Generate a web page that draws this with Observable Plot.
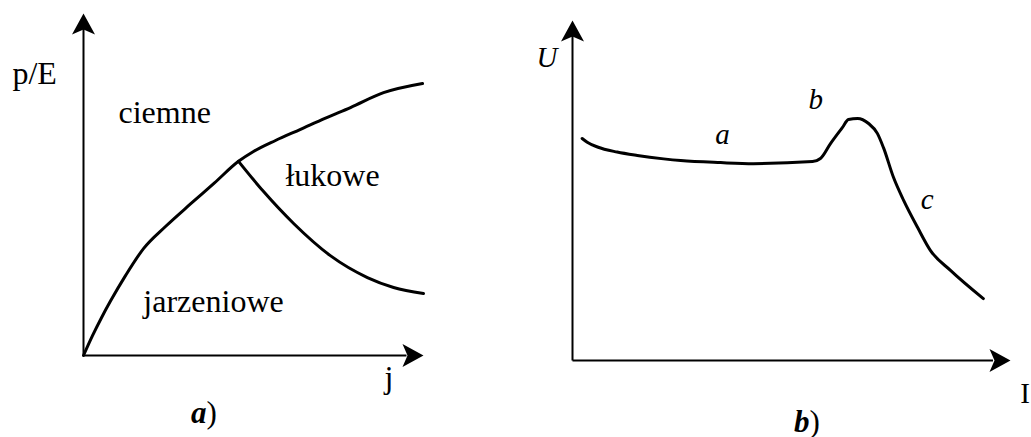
<!DOCTYPE html>
<html>
<head>
<meta charset="utf-8">
<script src="https://cdn.jsdelivr.net/npm/d3@7"></script>
<script src="https://cdn.jsdelivr.net/npm/@observablehq/plot@0.6"></script>
<style>
  html, body { margin: 0; padding: 0; background: #fff; overflow: hidden; }
  #figure { display: flex; width: 1031px; height: 437px; }
  #figure svg { display: block; flex: none; overflow: visible; }
</style>
</head>
<body>
<div id="figure"></div>
<script>
// ---- (a) discharge regimes on the j – p/E plane ----
const boundaryJ  = [0, 0.265, 0.529, 0.794, 1.235, 1.765, 2.412, 3.147, 3.853, 4.559, 5.0, 5.647, 6.382, 7.118, 7.853, 8.824, 9.971];
const boundaryPE = [0, 0.579, 1.105, 1.591, 2.336, 3.126, 3.772, 4.430, 5.047, 5.678, 5.965, 6.287, 6.614, 6.944, 7.251, 7.684, 7.953];
const arcJ  = [4.559, 5.29, 6.18, 7.26, 8.35, 9.12, 10.0];
const arcPE = [5.678, 4.80, 3.86, 2.92, 2.28, 1.99, 1.81];
const regimeNames = ["ciemne", "łukowe", "jarzeniowe"];
const regimeJ  = [1.03, 5.94, 1.76];
const regimePE = [6.81, 4.97, 1.26];
const axisNamesA = ["p/E", "j"];
const axisNameJ  = [-2.09, 8.85];
const axisNamePE = [7.95, -0.96];

// ---- (b) voltage–current characteristic U(I) ----
const currentI = [0.22, 0.336, 0.57, 1.02, 1.48, 2.08, 2.47, 3.38, 4.13, 5.48, 5.66, 5.89, 6.16, 6.30, 6.51, 6.76, 6.96, 7.10, 7.33, 7.56, 7.88, 8.17, 8.63, 9.38];
const voltageU = [6.53, 6.42, 6.28, 6.13, 6.03, 5.93, 5.88, 5.82, 5.79, 5.85, 5.94, 6.38, 6.85, 7.09, 7.12, 6.97, 6.68, 6.26, 5.38, 4.71, 3.91, 3.24, 2.65, 1.82];
const sectionNames = ["a", "b", "c"];
const sectionI = [3.26, 5.39, 7.95];
const sectionU = [6.38, 7.41, 4.47];
const voltageName = ["U"];
const currentName = ["I"];
const voltageNamePos = [-0.82, 8.62];
const currentNamePos = [10.22, -1.26];

// panel captions: letter + ")"
const captions = ["a", "b"];
const captionX = [3.62, 5.41];
const captionY = [-1.96, -2.09];

const serif = "'Liberation Serif', 'Times New Roman', serif";

// filled arrowhead with a notched back, tip at the anchor point, pointing up
const arrowhead = {
  draw(context) {
    context.moveTo(0, 0);
    context.lineTo(-11.5, 21);
    context.lineTo(0, 16);
    context.lineTo(11.5, 21);
    context.closePath();
  }
};

function axesMarks(xMax, yMax, stop) {
  return [
    Plot.link([0], {x1: 0, y1: 0, x2: xMax - stop, y2: 0, stroke: "black", strokeWidth: 2}),
    Plot.link([0], {x1: 0, y1: 0, x2: 0, y2: yMax - stop * 0.9, stroke: "black", strokeWidth: 2}),
    Plot.dot([0], {x: xMax, y: 0, symbol: arrowhead, rotate: 90, fill: "black", stroke: null}),
    Plot.dot([0], {x: 0, y: yMax, symbol: arrowhead, rotate: 0, fill: "black", stroke: null})
  ];
}

function textMarks(names, xs, ys, opts) {
  return Plot.text(names, {
    x: (d, i) => xs[i], y: (d, i) => ys[i], text: d => d,
    textAnchor: "start", lineAnchor: "bottom", fontFamily: serif, fill: "black", ...opts
  });
}

function captionMarks(i, fontSize) {
  return [
    Plot.text([captions[i]], {x: captionX[i], y: captionY[i], text: d => d, textAnchor: "end", lineAnchor: "bottom",
      fontFamily: serif, fontSize, fontWeight: "bold", fontStyle: "italic", fill: "black"}),
    Plot.text([")"], {x: captionX[i], y: captionY[i], text: d => d, textAnchor: "start", lineAnchor: "bottom",
      fontFamily: serif, fontSize, fill: "black"})
  ];
}

const boundary = boundaryJ.map((j, i) => ({j, pE: boundaryPE[i]}));
const arcEdge = arcJ.map((j, i) => ({j, pE: arcPE[i]}));
const characteristic = currentI.map((I, i) => ({I, U: voltageU[i]}));

const panelA = Plot.plot({
  width: 515, height: 437,
  marginLeft: 83, marginRight: 92, marginTop: 13, marginBottom: 82,
  x: {domain: [0, 10], axis: null},
  y: {domain: [0, 10], axis: null},
  style: {background: "white", overflow: "visible"},
  marks: [
    ...axesMarks(10, 10, 0.5),
    Plot.line(boundary, {x: "j", y: "pE", curve: "monotone-x", stroke: "black", strokeWidth: 3}),
    Plot.line(arcEdge, {x: "j", y: "pE", curve: "monotone-x", stroke: "black", strokeWidth: 3}),
    textMarks(regimeNames, regimeJ, regimePE, {fontSize: 32}),
    textMarks(axisNamesA, axisNameJ, axisNamePE, {fontSize: 32}),
    ...captionMarks(0, 31)
  ]
});

const panelB = Plot.plot({
  width: 516, height: 437,
  marginLeft: 57, marginRight: 21, marginTop: 20, marginBottom: 77,
  x: {domain: [0, 10], axis: null},
  y: {domain: [0, 10], axis: null},
  style: {background: "white", overflow: "visible"},
  marks: [
    ...axesMarks(10, 10, 0.4),
    Plot.line(characteristic, {x: "I", y: "U", curve: "monotone-x", stroke: "black", strokeWidth: 3}),
    textMarks(sectionNames, sectionI, sectionU, {fontSize: 29, fontStyle: "italic"}),
    textMarks(voltageName, [voltageNamePos[0]], [voltageNamePos[1]], {fontSize: 29, fontStyle: "italic"}),
    textMarks(currentName, [currentNamePos[0]], [currentNamePos[1]], {fontSize: 29}),
    ...captionMarks(1, 31)
  ]
});

document.getElementById("figure").append(panelA, panelB);
</script>
</body>
</html>
